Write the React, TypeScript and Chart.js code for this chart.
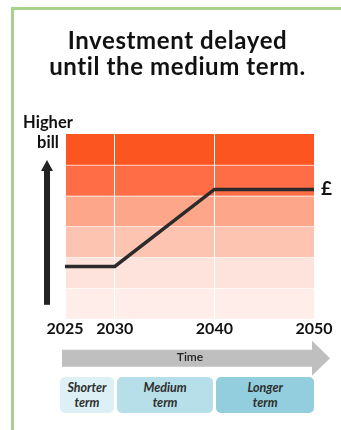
import React, { useEffect, useRef } from "react";
import { Chart, registerables } from "chart.js";

Chart.register(...registerables);

const years = [2025, 2030, 2040, 2050];
const billLevel = [1.7, 1.7, 4.2, 4.2];
const tickYears = [2025, 2030, 2040, 2050];
const bandLevels = [0, 1, 2, 3, 4, 5, 6];
const bandColors = ["#feede9", "#fee3dc", "#fec4b2", "#fda68a", "#fe6d45", "#fd5520"];
const termLabels = [
  ["Shorter", "term"],
  ["Medium", "term"],
  ["Longer", "term"],
];
const termRanges = [
  [2025, 2030],
  [2030, 2040],
  [2040, 2050],
];
const termColors = ["#dcf0f5", "#b7dfe9", "#92cedd"];

const FONT = "Lato, 'DejaVu Sans', sans-serif";

const decorPlugin = {
  id: "decor",
  beforeDraw(chart: any) {
    const { ctx, chartArea: a, scales } = chart;
    const y = scales.y;
    ctx.save();
    for (let i = 0; i < bandColors.length; i++) {
      const y0 = y.getPixelForValue(bandLevels[i]);
      const y1 = y.getPixelForValue(bandLevels[i + 1]);
      ctx.fillStyle = bandColors[i];
      ctx.fillRect(a.left, y1, a.right - a.left, y0 - y1);
    }
    ctx.strokeStyle = "rgba(255,255,255,0.55)";
    ctx.lineWidth = 1;
    for (let i = 1; i < bandLevels.length - 1; i++) {
      const yy = Math.round(y.getPixelForValue(bandLevels[i])) + 0.5;
      ctx.beginPath();
      ctx.moveTo(a.left, yy);
      ctx.lineTo(a.right, yy);
      ctx.stroke();
    }
    ctx.restore();
  },
  afterDraw(chart: any) {
    const { ctx, chartArea: a } = chart;
    ctx.save();
    // vertical "higher bill" arrow
    const ax = a.left - 18;
    const tipY = a.top + 26;
    const baseY = a.bottom - 14;
    ctx.fillStyle = "#222222";
    ctx.fillRect(ax - 3, tipY + 10, 6, baseY - tipY - 10);
    ctx.beginPath();
    ctx.moveTo(ax, tipY);
    ctx.lineTo(ax + 6, tipY + 11);
    ctx.lineTo(ax - 6, tipY + 11);
    ctx.closePath();
    ctx.fill();
    // time arrow
    const top = a.bottom + 22;
    const sx = a.left - 3;
    const hx = a.right - 2;
    const tx = a.right + 16;
    ctx.fillStyle = "#bfbfbf";
    ctx.beginPath();
    ctx.moveTo(sx, top + 9);
    ctx.lineTo(hx, top + 9);
    ctx.lineTo(hx, top);
    ctx.lineTo(tx, top + 17.5);
    ctx.lineTo(hx, top + 35);
    ctx.lineTo(hx, top + 26);
    ctx.lineTo(sx, top + 26);
    ctx.closePath();
    ctx.fill();
    ctx.restore();
  },
};

export default function App() {
  const ref = useRef<HTMLCanvasElement | null>(null);
  const [boxes, setBoxes] = React.useState<{ l: number; r: number }[]>([]);
  useEffect(() => {
    const chart = new Chart(ref.current as HTMLCanvasElement, {
      type: "line",
      data: {
        datasets: [
          {
            data: years.map((x, i) => ({ x, y: billLevel[i] })),
            borderColor: "#2b2b2b",
            borderWidth: 3.5,
            pointRadius: 0,
            tension: 0,
            clip: false as any,
          },
        ],
      },
      options: {
        responsive: false,
        animation: false,
        devicePixelRatio: 1,
        layout: { padding: { left: 65, right: 27, top: 134, bottom: 92 } },
        plugins: { legend: { display: false }, tooltip: { enabled: false } },
        scales: {
          x: {
            type: "linear",
            min: 2025,
            max: 2050,
            afterBuildTicks: (axis: any) => {
              axis.ticks = tickYears.map((v) => ({ value: v }));
            },
            grid: { color: "#ffffff", lineWidth: 1, drawTicks: false },
            border: { display: false },
            ticks: {
              color: "#111111",
              padding: 0,
              maxRotation: 0,
              autoSkip: false,
              font: { family: FONT, weight: "bold", size: 16 },
              callback: (v: any) => String(v),
            },
          },
          y: { display: false, min: 0, max: 6 },
        },
      },
      plugins: [decorPlugin],
    } as any);
    const xs = chart.scales.x;
    setBoxes(
      termRanges.map(([s, e], i) => ({
        l: xs.getPixelForValue(s) + (i === 0 ? -5 : 2),
        r: xs.getPixelForValue(e) - (i === 2 ? 0 : 1),
      }))
    );
    return () => chart.destroy();
  }, []);

  return (
    <div style={{ position: "fixed", left: 0, top: 0, width: 341, height: 430, background: "#fff", overflow: "hidden", fontFamily: FONT }}>
      <div style={{ position: "absolute", left: 11, top: 7, width: 330, height: 3, background: "#a9d18e" }} />
      <div style={{ position: "absolute", left: 11, top: 7, width: 3, height: 423, background: "#a9d18e" }} />
      <canvas ref={ref} width={341} height={430} style={{ position: "absolute", left: 0, top: 0 }} />
      <div style={{ position: "absolute", left: 14, top: 27, width: 327, textAlign: "center", fontSize: 24, lineHeight: "26px", letterSpacing: "0.6px", fontWeight: 700, color: "#111" }}>
        Investment delayed
        <br />
        until the medium term.
      </div>
      <div style={{ position: "absolute", left: 10, top: 112, width: 76, textAlign: "center", fontSize: 16.5, lineHeight: "20px", fontWeight: 700, color: "#111" }}>
        Higher
        <br />
        bill
      </div>
      <div style={{ position: "absolute", left: 321, top: 177, fontSize: 19, lineHeight: "22px", fontWeight: 700, color: "#111" }}>£</div>
      <div style={{ position: "absolute", left: 150, top: 349, width: 80, textAlign: "center", fontSize: 12, lineHeight: "16px", fontWeight: 600, color: "#222" }}>Time</div>
      {boxes.map((b, i) => (
        <div
          key={i}
          style={{
            position: "absolute",
            left: b.l,
            top: 377,
            width: b.r - b.l,
            height: 36,
            borderRadius: 5,
            background: termColors[i],
            display: "flex",
            flexDirection: "column",
            justifyContent: "center",
            alignItems: "center",
            fontSize: 12.5,
            lineHeight: "15px",
            fontStyle: "italic",
            fontWeight: 700,
            color: "#2e2e2e",
          }}
        >
          <span>{termLabels[i][0]}</span>
          <span>{termLabels[i][1]}</span>
        </div>
      ))}
    </div>
  );
}
